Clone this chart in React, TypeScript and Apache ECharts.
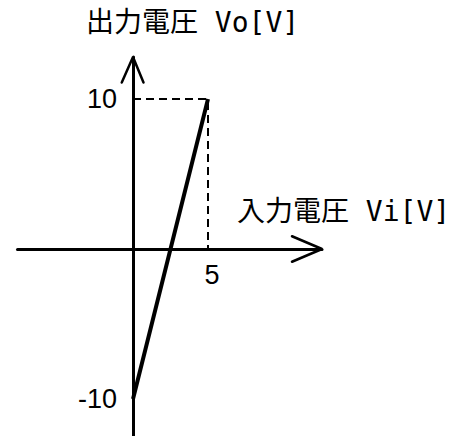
import React, { useEffect, useRef } from "react";
import * as echarts from "echarts";

// Transfer characteristic: input voltage Vi [V] -> output voltage Vo [V]
const inputVolts = [0, 5];
const outputVolts = [-10, 10];
// Dashed reference guide through (0,10) -> (5,10) -> (5,0)
const guideX = [0, 5, 5];
const guideY = [10, 10, 0];
// Tick labels
const xTickValues = [5];
const yTickValues = [-10, 10];
// Axis extents (data units)
const xExtent = [-7.7, 12.6];
const yExtent = [-12.5, 12.8];
// Axis titles
const yTitle = "出力電圧 Vo[V]";
const xTitle = "入力電圧 Vi[V]";

const W = 472;
const H = 436;
const ORIGIN_X = 133;
const ORIGIN_Y = 249;
const PX = 15; // pixels per volt

export default function App() {
  const ref = useRef<HTMLDivElement>(null);

  useEffect(() => {
    if (!ref.current) return;
    const chart = echarts.init(ref.current, null, { renderer: "svg" });

    const gridLeft = ORIGIN_X + xExtent[0] * PX;
    const gridRight = W - (ORIGIN_X + xExtent[1] * PX);
    const gridTop = ORIGIN_Y - yExtent[1] * PX;
    const gridBottom = H - (ORIGIN_Y - yExtent[0] * PX);

    const xMax = xExtent[1];
    const yMax = yExtent[1];
    const xArrow = [
      [xMax - 2, 0.85],
      [xMax, 0],
      [xMax - 2, -0.85],
    ];
    const yArrow = [
      [-0.75, yMax - 1.7],
      [0, yMax],
      [0.7, yMax - 1.7],
    ];

    const textFont = "'DejaVu Sans Mono', 'Noto Sans CJK JP', sans-serif";
    const numFont = "'Liberation Sans', Arial, sans-serif";

    chart.setOption({
      animation: false,
      backgroundColor: "#ffffff",
      grid: {
        left: gridLeft,
        right: gridRight,
        top: gridTop,
        bottom: gridBottom,
        containLabel: false,
        outerBoundsMode: "none",
      },
      xAxis: {
        type: "value",
        position: "bottom",
        min: xExtent[0],
        max: xExtent[1],
        // place the axis (line + labels) on y = 0
        offset: yExtent[0] * PX,
        axisLine: { show: true, onZero: false, lineStyle: { color: "#000", width: 3 } },
        axisTick: { show: false },
        splitLine: { show: false },
        axisLabel: {
          customValues: xTickValues,
          color: "#000",
          fontSize: 27,
          fontFamily: numFont,
          margin: 12,
          padding: [0, 0, 0, 8],
        },
      },
      yAxis: {
        type: "value",
        position: "left",
        min: yExtent[0],
        max: yExtent[1],
        // place the axis (line + labels) on x = 0
        offset: xExtent[0] * PX,
        axisLine: { show: true, onZero: false, lineStyle: { color: "#000", width: 3 } },
        axisTick: { show: false },
        splitLine: { show: false },
        axisLabel: {
          customValues: yTickValues,
          color: "#000",
          fontSize: 27,
          fontFamily: numFont,
          margin: 16,
          padding: [6, 0, 0, 0],
        },
      },
      series: [
        {
          type: "line",
          data: guideX.map((x, i) => [x, guideY[i]]),
          symbol: "none",
          clip: false,
          silent: true,
          lineStyle: { color: "#000", width: 2, type: [8, 5] },
        },
        {
          type: "line",
          data: inputVolts.map((x, i) => [x, outputVolts[i]]),
          symbol: "none",
          clip: false,
          silent: true,
          lineStyle: { color: "#000", width: 4 },
        },
        {
          type: "line",
          data: xArrow,
          symbol: "none",
          clip: false,
          silent: true,
          lineStyle: { color: "#000", width: 2.5, cap: "round" },
        },
        {
          type: "line",
          data: yArrow,
          symbol: "none",
          clip: false,
          silent: true,
          lineStyle: { color: "#000", width: 2.5, cap: "round" },
        },
      ],
      graphic: [
        {
          type: "text",
          x: 86,
          y: 22,
          style: {
            text: yTitle,
            fill: "#000",
            font: `28px ${textFont}`,
            verticalAlign: "middle",
            align: "left",
          },
        },
        {
          type: "text",
          x: 237,
          y: 211,
          style: {
            text: xTitle,
            fill: "#000",
            font: `28px ${textFont}`,
            verticalAlign: "middle",
            align: "left",
          },
        },
      ],
    });

    return () => chart.dispose();
  }, []);

  return (
    <div
      ref={ref}
      style={{ position: "absolute", left: 0, top: 0, width: W, height: H, background: "#fff" }}
    />
  );
}
